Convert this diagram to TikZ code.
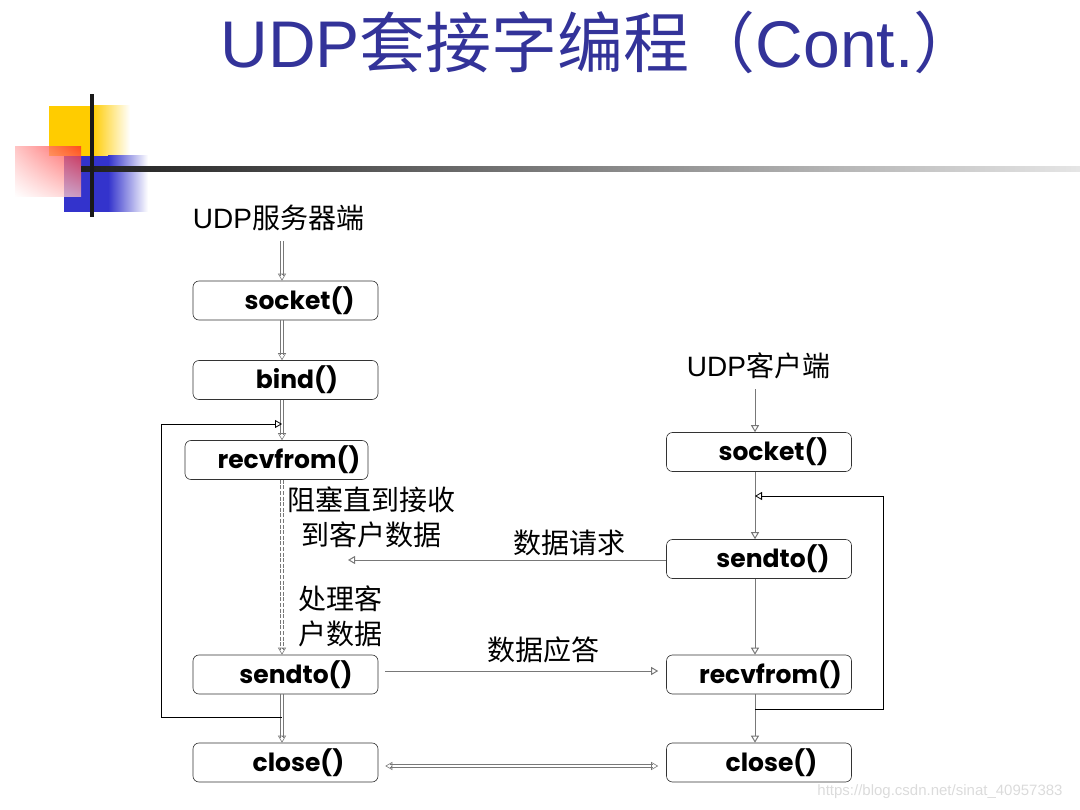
\documentclass[tikz,border=0pt]{standalone}
\usepackage{fontspec}
\setmainfont{Liberation Sans}
\newfontfamily\cjk{Noto Sans CJK SC}
\newfontfamily\callfont{Poppins}
\usetikzlibrary{arrows.meta,shadings}

\definecolor{titleblue}{RGB}{51,51,153}
\definecolor{decoyellow}{RGB}{255,204,0}
\definecolor{decoblue}{RGB}{51,51,204}
\definecolor{decored}{RGB}{255,40,40}
\definecolor{linegray}{RGB}{120,120,120}

\begin{document}
\begin{tikzpicture}[x=1pt,y=-1pt,
  callbox/.style={draw=black!80, line width=0.6pt, rounded corners=6pt,
    minimum width=185pt, minimum height=39pt, inner sep=0pt},
  calltext/.style={font=\callfont\bfseries\fontsize{25}{25}\selectfont, inner sep=0pt},
  cntext/.style={font=\cjk\fontsize{28}{35}\selectfont, inner sep=0pt, align=center},
  opentip/.style={-{Triangle[open,length=7pt,width=8pt]}},
  rail/.style={draw=linegray, line width=0.7pt},
  conn/.style={draw=linegray, line width=1pt},
  dotrail/.style={draw=linegray, line width=0.6pt, dash pattern=on 4pt off 1.6pt},
  loopline/.style={draw=black, line width=0.8pt}]

\useasboundingbox (0,0) rectangle (1080,810);

% corner decoration
\fill[decoyellow] (49,106) rectangle (92,156);
\shade[left color=decoyellow, right color=white] (92,106) rectangle (130,156);
\fill[decoblue] (64,156) rectangle (108,212);
\shade[left color=decoblue, right color=white] (108,156) rectangle (148,212);
\shade[upper left=red!30, upper right=decored, lower left=white, lower right=red!25!white,
  opacity=0.75] (15,147) rectangle (81,197);
\shade[left color=black!88, middle color=black!65, right color=black!10] (81,167) rectangle (1080,171.5);
\fill[black!90] (90,94) rectangle (94,217);

% title
\node[text=titleblue, inner sep=0pt, anchor=base] (title) at (600,68)
  {\fontsize{66}{66}\selectfont UDP{\cjk 套接字编程（}Cont.{\cjk ）}};

% column axes
\coordinate (Lx) at (282,0);
\coordinate (Rx) at (755,0);

% server side
\node[inner sep=0pt] (srv) at (278.5,218) {\fontsize{28}{28}\selectfont UDP{\cjk 服务器端}};
\node[callbox] (s1) at (285.5,300.5) {};
\node[calltext] (s1t) at (299.5,300.5) {socket()};
\node[callbox] (b1) at (285.5,380) {};
\node[calltext] (b1t) at (297,380) {bind()};
\node[callbox, minimum width=183pt] (r1) at (276.5,460) {};
\node[calltext] (r1t) at (289,460) {recvfrom()};
\node[callbox] (d1) at (285.5,674.5) {};
\node[calltext] (d1t) at (296,674.5) {sendto()};
\node[callbox] (c1) at (285.5,762.5) {};
\node[calltext] (c1t) at (298.5,762.5) {close()};

% client side
\node[inner sep=0pt] (cli) at (758.5,366) {\fontsize{28}{28}\selectfont UDP{\cjk 客户端}};
\node[callbox] (s2) at (759,452) {};
\node[calltext] (s2t) at (773.5,452) {socket()};
\node[callbox] (d2) at (759,559) {};
\node[calltext] (d2t) at (773,559) {sendto()};
\node[callbox] (r2) at (759,674.5) {};
\node[calltext] (r2t) at (770.5,674.5) {recvfrom()};
\node[callbox] (c2) at (759,762.5) {};
\node[calltext] (c2t) at (771.5,762.5) {close()};

% notes
\node[cntext] (n1) at (371,517) {阻塞直到接收\\到客户数据};
\node[cntext] (n2) at (340.5,616) {处理客\\户数据};
\node[cntext] (q1) at (569,543) {数据请求};
\node[cntext] (q2) at (543,650) {数据应答};

% server flow: each step drawn as a pair of thin rails with an open tip
\foreach \from/\to/\sty/\gap in {srv/s1/rail/10, s1/b1/rail/0, b1/r1/rail/0, r1/d1/dotrail/0, d1/c1/rail/0} {
  \draw[\sty] ([xshift=-1.3pt,yshift=-\gap pt]Lx |- \from.south) -- ([xshift=-1.3pt,yshift=5pt]Lx |- \to.north);
  \draw[\sty] ([xshift=1.3pt,yshift=-\gap pt]Lx |- \from.south) -- ([xshift=1.3pt,yshift=5pt]Lx |- \to.north);
  \draw[conn, line width=0.6pt, opentip] ([yshift=6pt]Lx |- \to.north) -- (Lx |- \to.north);
}
\draw[loopline, opentip] (Lx |- 0,717) -- (161,717) -- (161,424) -- (Lx |- 0,424);

% client flow
\draw[conn, opentip] (Rx |- cli.south) ++(0,10) -- (Rx |- s2.north);
\draw[conn, opentip] (Rx |- s2.south) -- (Rx |- d2.north);
\draw[conn, opentip] (Rx |- d2.south) -- (Rx |- r2.north);
\draw[conn, opentip] (Rx |- r2.south) -- (Rx |- c2.north);
\draw[loopline, opentip] (Rx |- 0,709) -- (883,709) -- (883,496) -- (Rx |- 0,496);

% messages between the two sides
\coordinate (reqend) at (348,560);
\draw[conn, opentip] (d2.west |- reqend) -- (reqend);
\draw[conn, opentip] ([xshift=7pt,yshift=3.5pt]d1.east) -- ([xshift=-8pt,yshift=3.5pt]r2.west);
\coordinate (cl1) at ([xshift=7pt,yshift=-3.5pt]c1.east);
\coordinate (cl2) at ([xshift=-8pt,yshift=-3.5pt]c2.west);
\draw[rail] ([xshift=5pt,yshift=1.3pt]cl1) -- ([xshift=-5pt,yshift=1.3pt]cl2);
\draw[rail] ([xshift=5pt,yshift=-1.3pt]cl1) -- ([xshift=-5pt,yshift=-1.3pt]cl2);
\draw[conn, line width=0.6pt, opentip] ([xshift=6pt]cl1) -- (cl1);
\draw[conn, line width=0.6pt, opentip] ([xshift=-6pt]cl2) -- (cl2);

% watermark
\node[text=black!14, inner sep=0pt, font=\fontsize{15}{15}\selectfont] (wm) at (940,792)
  {https://blog.csdn.net/sinat\_40957383};
\end{tikzpicture}
\end{document}
